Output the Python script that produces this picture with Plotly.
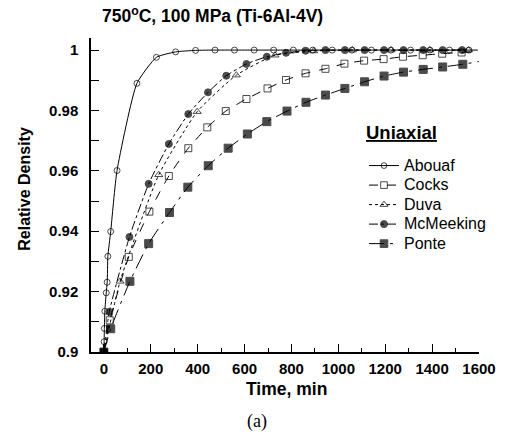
import plotly.graph_objects as go

# ---- data ----
abouaf_t = [0, 1, 2, 4, 10, 14, 17, 29, 56, 141, 224, 306, 391, 474, 557, 641, 724, 808, 891, 974, 1058, 1141, 1224, 1308, 1391, 1474, 1557, 1595]
abouaf_d = [0.9, 0.9034, 0.9078, 0.9135, 0.9196, 0.9231, 0.9317, 0.9399, 0.9601, 0.9890, 0.9976, 0.9994, 0.9999, 1.0, 1.0, 1.0, 1.0, 1.0, 1.0, 1.0, 1.0, 1.0, 1.0, 1.0, 1.0, 1.0, 1.0, 1.0]

cocks_t = [0, 25, 106, 194, 277, 360, 441, 520, 608, 698, 777, 860, 945, 1026, 1110, 1193, 1276, 1360, 1443, 1526, 1600]
cocks_d = [0.9, 0.9105, 0.9315, 0.9465, 0.9583, 0.9675, 0.9744, 0.9798, 0.9838, 0.9873, 0.9901, 0.9923, 0.9938, 0.9955, 0.9965, 0.9970, 0.9978, 0.9983, 0.9988, 0.9992, 0.9995]

duva_t = [0, 69, 234, 398, 565, 730, 895, 1060, 1225, 1390, 1555]
duva_d = [0.9, 0.9234, 0.9587, 0.9796, 0.9917, 0.9983, 0.9997, 1.0, 1.0, 1.0, 1.0]

mcm_t = [0, 23, 109, 191, 277, 360, 444, 522, 608, 695, 777, 860, 945, 1028, 1112, 1195, 1278, 1362, 1445, 1528]
mcm_d = [0.9, 0.9133, 0.9381, 0.9557, 0.9689, 0.9788, 0.9860, 0.9915, 0.9954, 0.9978, 0.9991, 0.9998, 1.0, 1.0, 1.0, 1.0, 1.0, 1.0, 1.0, 1.0]

ponte_t = [0, 29, 111, 191, 280, 358, 445, 530, 612, 695, 781, 862, 945, 1028, 1112, 1195, 1278, 1362, 1445, 1531, 1600]
ponte_d = [0.9, 0.9077, 0.9234, 0.9359, 0.9462, 0.9546, 0.9617, 0.9675, 0.9722, 0.9763, 0.9798, 0.9827, 0.9851, 0.9873, 0.9895, 0.9914, 0.9927, 0.9936, 0.9944, 0.9953, 0.9962]

series_names = ["Abouaf", "Cocks", "Duva", "McMeeking", "Ponte"]

y_tick_vals = [0.9, 0.92, 0.94, 0.96, 0.98, 1.0]
y_tick_text = ["0.9", "0.92", "0.94", "0.96", "0.98", "1"]
x_tick_vals = [0, 200, 400, 600, 800, 1000, 1200, 1400, 1600]

# ---- figure ----
fig = go.Figure()

styles = [
    (abouaf_t, abouaf_d, "solid", "circle-open", 6, True),
    (cocks_t, cocks_d, "dash", "square-open", 7, True),
    (duva_t, duva_d, "dot", "triangle-up-open", 7, False),
    (mcm_t, mcm_d, "dashdot", "circle", 7, False),
    (ponte_t, ponte_d, "longdashdot", "square", 8, True),
]

for name, (t, d, dash, sym, sz, has_end) in zip(series_names, styles):
    sizes = [sz] * len(t)
    if has_end:
        sizes[-1] = 0
    fig.add_trace(go.Scatter(
        x=t, y=d, name=f"<span style='font-size:16px'>{name}</span>", mode="lines+markers",
        line=dict(color="black", width=1, dash=dash, shape="spline", smoothing=0.5),
        marker=dict(symbol=sym, size=sizes, color="black", line=dict(color="black", width=1)),
    ))

L, R, T, B = 91, 31, 38, 85.5
PW = 510 - L - R
PH = 438 - T - B

def px_x(px):
    return (px - L) / PW

def px_y(py):
    return (438 - B - py) / PH

fig.update_layout(
    width=510, height=438,
    margin=dict(l=L, r=R, t=T, b=B, pad=0),
    paper_bgcolor="white", plot_bgcolor="white",
    font=dict(family="Liberation Sans, Arial", color="black"),
    title=dict(text="<b>750<sup>o</sup>C, 100 MPa (Ti-6Al-4V)</b>", x=102/510, xanchor="left",
               y=1 - 16/438, yanchor="middle", font=dict(size=17.5)),
    legend=dict(x=px_x(364), y=px_y(151), xanchor="left", yanchor="top",
                font=dict(size=12.7), bgcolor="rgba(0,0,0,0)", borderwidth=0,
                tracegroupgap=0, itemwidth=30),
    showlegend=True,
)

fig.update_xaxes(
    range=[-55, 1600], showgrid=False, zeroline=False,
    showline=True, linecolor="black", linewidth=1.5,
    tickvals=x_tick_vals, ticks="inside", ticklen=8, tickwidth=1.3, tickcolor="black",
    tickfont=dict(size=15, family="Liberation Sans, Arial", weight="bold"), ticklabelstandoff=2,
    minor=dict(dtick=100, ticks="inside", ticklen=4, tickcolor="black", tickwidth=1),
)
fig.update_yaxes(
    range=[0.9, 1.004], showgrid=False, zeroline=False,
    showline=True, linecolor="black", linewidth=1.5,
    tickvals=y_tick_vals, ticktext=y_tick_text, ticks="inside", ticklen=8, tickwidth=1.3, tickcolor="black",
    tickfont=dict(size=15, family="Liberation Sans, Arial", weight="bold"), ticklabelstandoff=8,
    minor=dict(dtick=0.01, tick0=0.9, ticks="inside", ticklen=8, tickcolor="black", tickwidth=1),
)

fig.add_annotation(text="<b>Relative Density</b>", xref="paper", yref="paper",
                   x=px_x(25), y=px_y(189), textangle=-90, showarrow=False,
                   font=dict(size=16), xanchor="center", yanchor="middle")
fig.add_annotation(text="<b>Time, min</b>", xref="paper", yref="paper",
                   x=px_x(286), y=px_y(390), showarrow=False,
                   font=dict(size=17.5), xanchor="center", yanchor="middle")
fig.add_annotation(text="(a)", xref="paper", yref="paper",
                   x=px_x(257), y=px_y(422), showarrow=False,
                   font=dict(size=18, family="Liberation Serif, Times New Roman"),
                   xanchor="center", yanchor="middle")
fig.add_annotation(text="<b><u>Uniaxial</u></b>", xref="paper", yref="paper",
                   x=px_x(401), y=px_y(133), showarrow=False,
                   font=dict(size=18.5), xanchor="center", yanchor="middle")

fig.write_html("out.html")
